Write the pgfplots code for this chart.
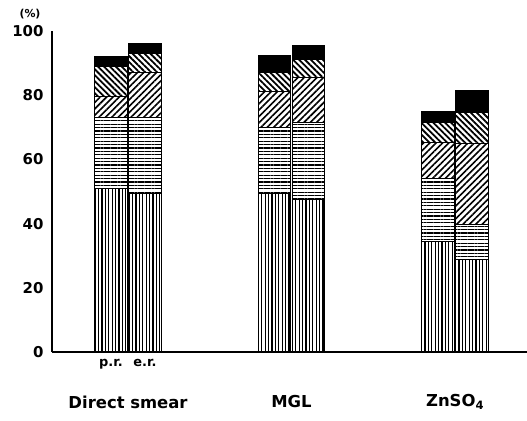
\documentclass[border=0pt]{standalone}
\usepackage{fontspec}
\setmainfont{DejaVu Sans}
\usepackage{pgfplots}
\usepackage{pgfplotstable}
\pgfplotsset{compat=1.18}
\usetikzlibrary{patterns.meta}

% cumulative parts of each bar, as increments (%)
% x: group index -/+ offset for p.r. / e.r.
\pgfplotstableread{
x      V     H     F     B    K
-0.104 51.0  22.0  6.5   9.5  3.0
0.104  49.5  23.5  14.0  6.0  3.0
0.896  49.5  20.5  11.0  6.0  5.5
1.104  47.5  24.0  14.0  5.5  4.5
1.896  34.3  19.9  11.2  6.2  3.2
2.104  28.7  10.9  25.4  9.5  7.1
}\bars

\begin{document}
\begin{tikzpicture}[x=1bp,y=1bp]
\begin{axis}[
  at={(0,0)}, anchor=south west,
  scale only axis, width=475bp, height=321bp,
  axis lines=left,
  axis line style={-, line width=1.4bp},
  xmin=-0.465, xmax=2.44, ymin=0, ymax=100,
  ytick={0,20,...,100}, major tick length=0pt,
  yticklabel style={font=\bfseries\fontsize{15}{15}\selectfont, xshift=-5bp},
  xtick={-0.104,0.104}, xticklabels={p.r.,e.r.},
  xticklabel style={font=\bfseries\fontsize{13}{13}\selectfont, yshift=-4bp},
  /pgf/number format/assume math mode=true,
  ybar stacked, bar width=0.2,
  every axis plot/.append style={draw=black, line width=1bp},
  clip=false,
]
\addplot[pattern={Lines[angle=90, distance=3.4bp, line width=1.2bp]}] table[x=x, y=V] {\bars};
\addplot[pattern={Lines[angle=0, distance=3.4bp, line width=1.2bp]}] table[x=x, y=H] {\bars};
\addplot[pattern={Lines[angle=45, distance=4.5bp, line width=1.6bp]}] table[x=x, y=F] {\bars};
\addplot[pattern={Lines[angle=-45, distance=4.2bp, line width=1.8bp]}] table[x=x, y=B] {\bars};
\addplot[fill=black] table[x=x, y=K] {\bars};

\node[font=\bfseries\fontsize{16.5}{16.5}\selectfont] at (axis cs:0,0) [yshift=-50bp] {Direct smear};
\node[font=\bfseries\fontsize{16.5}{16.5}\selectfont] at (axis cs:1,0) [yshift=-50bp] {MGL};
\node[font=\bfseries\fontsize{16.5}{16.5}\selectfont] at (axis cs:2,0) [yshift=-50bp] {ZnSO\textsubscript{4}};
\node[font=\bfseries\fontsize{11}{11}\selectfont] at (rel axis cs:0,1) [xshift=-22bp, yshift=17bp] {(\%)};
\end{axis}
\pgfresetboundingbox
\path[use as bounding box] (-52,-68) rectangle (475,352);
\end{tikzpicture}
\end{document}
